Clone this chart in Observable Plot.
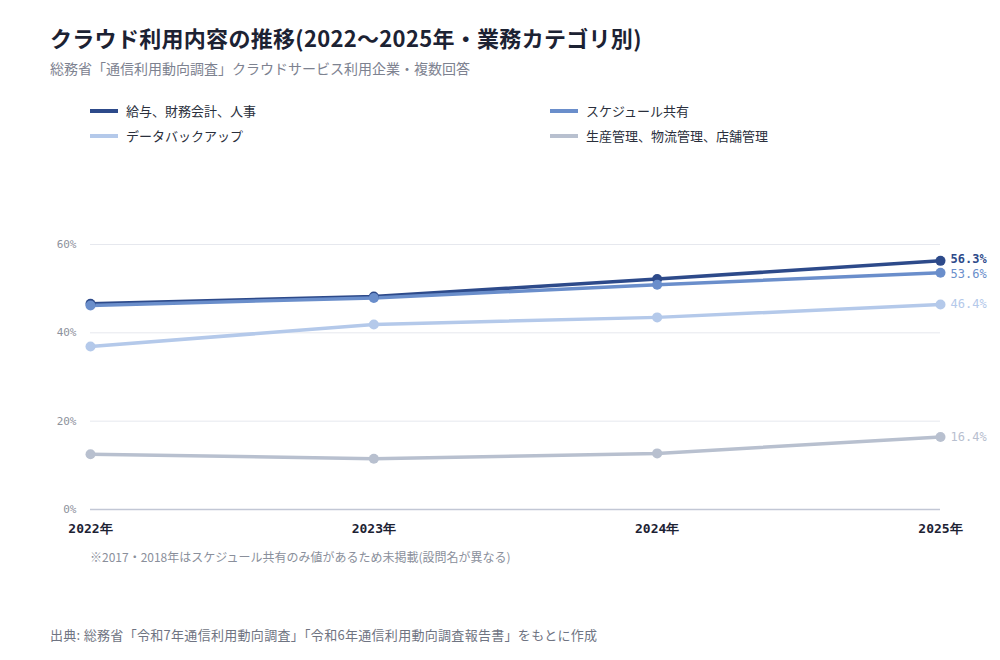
<!DOCTYPE html>
<html lang="ja">
<head>
<meta charset="utf-8">
<script src="https://cdn.jsdelivr.net/npm/d3@7"></script>
<script src="https://cdn.jsdelivr.net/npm/@observablehq/plot@0.6"></script>
<style>
  html, body { margin: 0; padding: 0; background: #fff; }
  body { width: 1000px; height: 660px; position: relative; overflow: hidden;
         font-family: "Noto Sans CJK JP", "Noto Sans", sans-serif; }
  .abs { position: absolute; white-space: nowrap; }
  #title { left: 50px; top: 22px; font-size: 22px; line-height: 30px; font-weight: 700; color: #1c2233; letter-spacing: 0.3px; }
  #subtitle { left: 50px; top: 58px; font-size: 14px; line-height: 20px; color: #7d8290; }
  .leg { font-size: 13px; color: #2a2f3c; display: flex; align-items: center; }
  .leg .sw { width: 28px; height: 4px; margin-right: 8px; }
  #chart { left: 0; top: 200px; }
  #note { left: 90px; top: 548px; font-size: 12px; line-height: 18px; color: #8a8f9b; }
  #source { left: 50px; top: 625px; font-size: 13px; line-height: 20px; color: #6f7482; letter-spacing: 0.3px; }
</style>
</head>
<body>
<div id="title" class="abs"></div>
<div id="subtitle" class="abs"></div>
<div id="legend"></div>
<div id="chart" class="abs"></div>
<div id="note" class="abs"></div>
<div id="source" class="abs"></div>
<script>
// ---- data ----
const titleText = "クラウド利用内容の推移(2022〜2025年・業務カテゴリ別)";
const subtitleText = "総務省「通信利用動向調査」クラウドサービス利用企業・複数回答";
const noteText = "※2017・2018年はスケジュール共有のみ値があるため未掲載(設問名が異なる)";
const sourceText = "出典: 総務省「令和7年通信利用動向調査」「令和6年通信利用動向調査報告書」をもとに作成";

const years = [2022, 2023, 2024, 2025];
const categories = ["給与、財務会計、人事", "スケジュール共有", "データバックアップ", "生産管理、物流管理、店舗管理"];
const payroll  = [46.6, 48.2, 52.2, 56.3];
const schedule = [46.2, 47.9, 50.9, 53.6];
const backup   = [36.9, 41.9, 43.5, 46.4];
const production = [12.5, 11.5, 12.7, 16.4];
const yTicks = [0, 20, 40, 60];

const colors = ["#2d4a8a", "#6a8ecb", "#b4c9ea", "#b8c0cf"];
const series = [payroll, schedule, backup, production];

// ---- table ----
const data = [];
categories.forEach((c, i) => years.forEach((y, j) => data.push({cat: c, year: y, value: series[i][j]})));
const last = data.filter(d => d.year === 2025);

// ---- header ----
document.getElementById("title").textContent = titleText;
document.getElementById("subtitle").textContent = subtitleText;
document.getElementById("note").textContent = noteText;
document.getElementById("source").textContent = sourceText;

const legendPos = [[90, 101], [550, 101], [90, 126], [550, 126]];
const legend = document.getElementById("legend");
categories.forEach((c, i) => {
  const el = document.createElement("div");
  el.className = "abs leg";
  el.style.left = legendPos[i][0] + "px";
  el.style.top = legendPos[i][1] + "px";
  el.innerHTML = `<span class="sw" style="background:${colors[i]}"></span><span></span>`;
  el.lastChild.textContent = c;
  legend.appendChild(el);
});

// ---- chart ----
const mono = "'DejaVu Sans Mono', monospace";
const labelOpts = (cat, dy, weight) => ({
  x: "year", y: "value", text: d => d.value.toFixed(1) + "%", fill: "cat", dx: 10, dy,
  textAnchor: "start", fontSize: 12, fontFamily: mono, fontWeight: weight,
  filter: d => d.cat === cat
});
const chart = Plot.plot({
  width: 1000,
  height: 340,
  marginLeft: 90,
  marginRight: 60,
  marginTop: 44,
  marginBottom: 31,
  style: {fontFamily: mono, background: "transparent", overflow: "visible"},
  x: {domain: [2022, 2025]},
  y: {domain: [0, 60]},
  color: {domain: categories, range: colors},
  marks: [
    Plot.gridY(yTicks.filter(d => d > 0), {stroke: "#e6e8ee", strokeOpacity: 1, strokeWidth: 1}),
    Plot.ruleY([0], {stroke: "#c2c7d5", strokeWidth: 1.5}),
    Plot.axisY(yTicks, {tickSize: 0, tickPadding: 14, tickFormat: d => d + "%", fill: "#8d919c", fontSize: 11, fontFamily: mono, label: null}),
    Plot.axisX(years, {tickSize: 0, tickPadding: 14, tickFormat: d => d + "年", fill: "#1c2233", fontSize: 13, fontWeight: 700, fontFamily: mono, label: null}),
    Plot.line(data, {x: "year", y: "value", z: "cat", stroke: "cat", strokeWidth: 3.5, strokeLinecap: "round", strokeLinejoin: "round"}),
    Plot.dot(data, {x: "year", y: "value", fill: "cat", r: 5}),
    Plot.text(last, labelOpts(categories[0], -1.5, 700)),
    Plot.text(last, labelOpts(categories[1], 1.5, 400)),
    Plot.text(last, labelOpts(categories[2], 0, 400)),
    Plot.text(last, labelOpts(categories[3], 0, 400))
  ]
});
document.getElementById("chart").appendChild(chart);
</script>
</body>
</html>
